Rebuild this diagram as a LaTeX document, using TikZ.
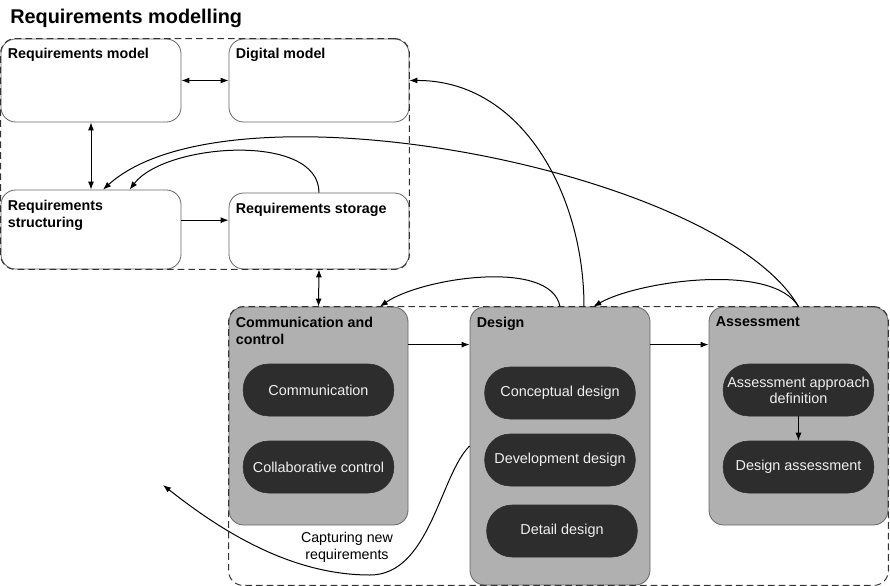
\documentclass[tikz,border=0pt]{standalone}
\usepackage{fontspec}
\setmainfont{Liberation Sans}
\usetikzlibrary{arrows.meta,fit}
\definecolor{boxgray}{HTML}{B0B0B0}
\definecolor{pilldark}{HTML}{2D2D2D}
\definecolor{edgegray}{HTML}{666666}

\begin{document}
\begin{tikzpicture}[x=0.75pt,y=-0.75pt,
  every node/.style={font=\fontsize{10.7}{12.7}\selectfont},
  reqbox/.style={draw=edgegray,line width=0.6pt,rounded corners=11pt,fill=white,minimum width=135pt},
  phase/.style={draw=edgegray,line width=0.6pt,rounded corners=11pt,fill=boxgray},
  pill/.style={draw=pilldark,fill=pilldark,text=white!94!black,rounded corners=19pt,minimum width=113pt,minimum height=39pt,align=center,inner sep=0pt,font=\fontsize{10.8}{12}\selectfont},
  heading/.style={anchor=north west,inner sep=0pt,align=left,font=\bfseries\fontsize{10.7}{12.8}\selectfont},
  groupbox/.style={draw=black!80,dash pattern=on 5pt off 3pt,line width=0.7pt,rounded corners=11pt,inner sep=0pt},
  link/.style={line width=0.75pt,-{Latex[length=6pt,width=4.5pt]}},
  twoway/.style={line width=0.75pt,{Latex[length=6pt,width=4.5pt]}-{Latex[length=6pt,width=4.5pt]}}]
\useasboundingbox (0,0) rectangle (890,586);

\node[anchor=base west,inner sep=0pt,font=\bfseries\fontsize{14.9}{17}\selectfont] (title) at (10,23) {Requirements modelling};

\node[reqbox,minimum height=62.25pt] (rm) at (91,80.5) {};
\node[reqbox,minimum height=62.25pt] (dm) at (319,80.5) {};
\node[reqbox,minimum height=59.25pt] (rs) at (91,229.5) {};
\node[reqbox,minimum height=57pt] (rst) at (319,231) {};
\node[groupbox,fit=(rm)(dm)(rs)(rst)] (modelling) {};

\node[heading] (rmt) at ([shift={(7,9)}]rm.north west) {Requirements model};
\node[heading] (dmt) at ([shift={(7,9)}]dm.north west) {Digital model};
\node[heading] (rst1) at ([shift={(7,10)}]rs.north west) {Requirements\\structuring};
\node[heading] (rstt) at ([shift={(7,10)}]rst.north west) {Requirements storage};

\node[phase,minimum width=134.25pt,minimum height=163.5pt] (cc) at (318.5,416) {};
\node[phase,minimum width=135pt,minimum height=208.5pt] (des) at (560,446) {};
\node[phase,minimum width=134.25pt,minimum height=163.5pt] (ass) at (798.5,416) {};
\node[groupbox,fit=(cc)(des)(ass)] (process) {};

\node[heading] (cct) at ([shift={(7,10)}]cc.north west) {Communication and\\control};
\node[heading] (dest) at ([shift={(7,10)}]des.north west) {Design};
\node[heading] (asst) at ([shift={(7,10)}]ass.north west) {Assessment};

\node[pill] (com) at (318.5,390) {Communication};
\node[pill] (col) at (318.5,467) {Collaborative control};
\node[pill] (con) at (560,393) {Conceptual design};
\node[pill] (dev) at (560,460) {Development design};
\node[pill] (det) at (562,531) {Detail design};
\node[pill] (aad) at (798.5,390) {Assessment approach\\definition};
\node[pill] (das) at (798.5,467) {Design assessment};

\node[align=center,inner sep=0pt] (capt) at (347,547) {Capturing new\\requirements};
\coordinate (capend) at (163,485);

\draw[twoway] (rm) -- (dm);
\draw[twoway] (rm) -- (rs);
\draw[link] ([yshift=7pt]rs.east) -- ([yshift=7pt]rs.east -| rst.west);
\draw[link] (rst.north) .. controls (319,132) and (165,143) .. ([xshift=29pt]rs.north);
\draw[link] (ass.north) .. controls (720,170) and (230,75) .. ([xshift=9pt]rs.north);
\draw[link] ([xshift=18pt]des.north) .. controls (584,195) and (522,80) .. (dm.east);
\draw[link] (ass.north) .. controls (772,262) and (638,281) .. ([xshift=25pt]des.north);
\draw[link] (des.north) .. controls (551,258) and (421,278) .. ([xshift=46pt]cc.north);
\draw[twoway] (rst.south) -- (cc.north);
\draw[link] ([yshift=-28.5pt]cc.north east) -- ([yshift=-28.5pt]cc.north east -| des.west);
\draw[link] ([yshift=-28.5pt]des.north east) -- ([yshift=-28.5pt]des.north east -| ass.west);
\draw[link] (aad) -- (das);
\draw[link] (des.west) .. controls (440,475) and (430,575) .. (370,575) .. controls (290,575) and (220,530) .. (capend);
\end{tikzpicture}
\end{document}
